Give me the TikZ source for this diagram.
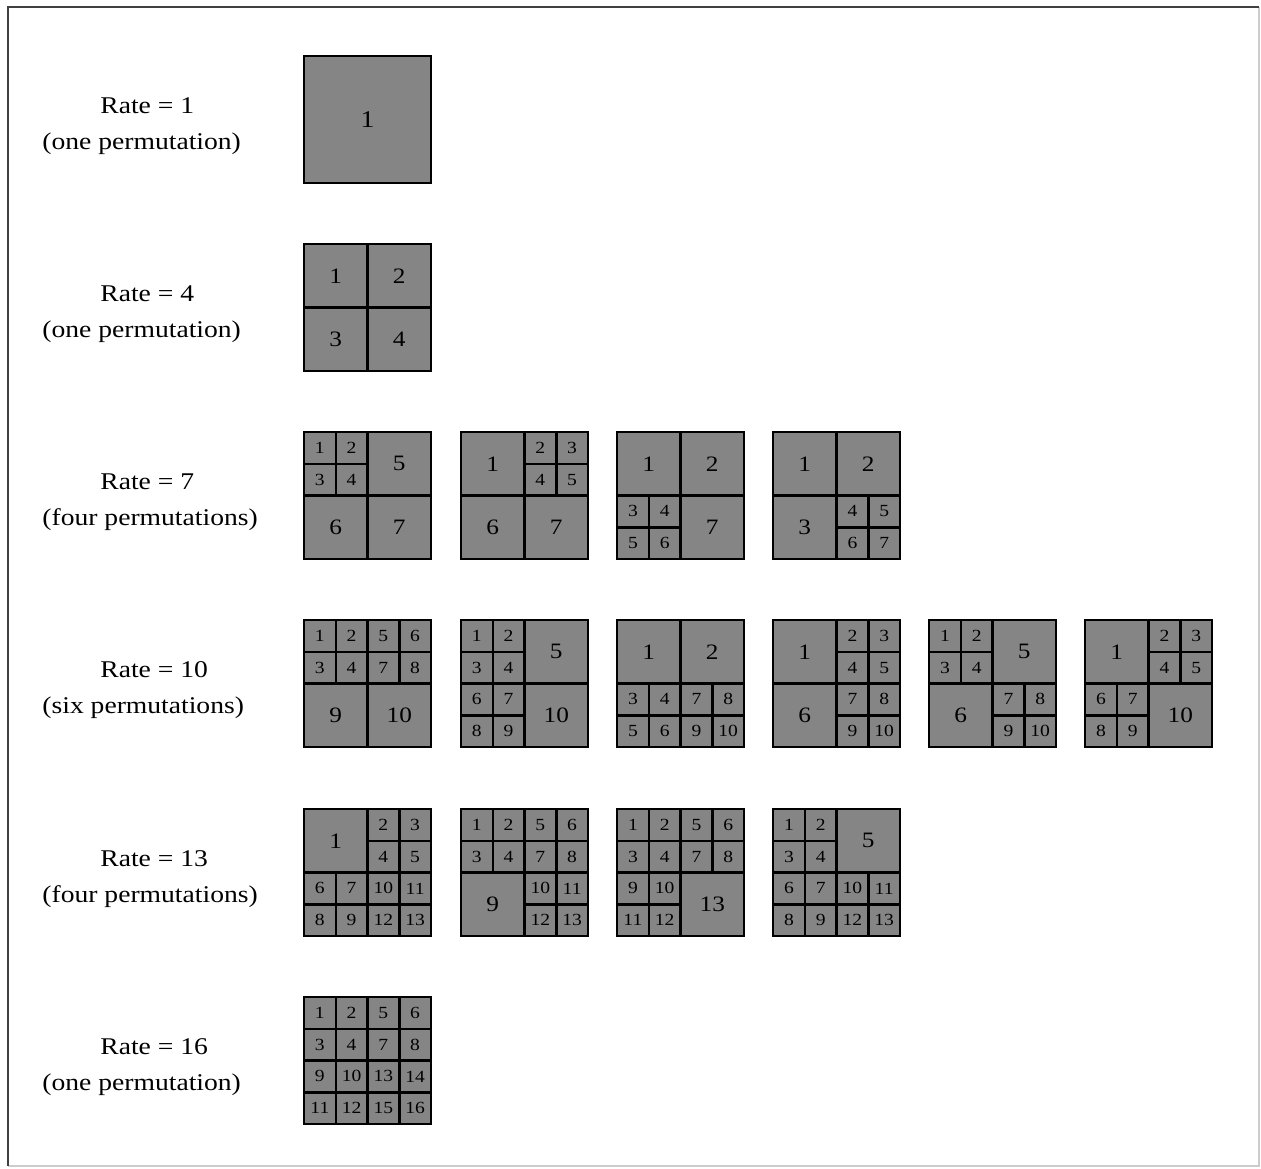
\documentclass[tikz,border=0pt]{standalone}
\usepackage{fontspec}
\setmainfont{Liberation Serif}[FakeStretch=1.15]
\usepackage{tikz}

\definecolor{tilegray}{gray}{0.52}
\def\cellq{31.75}

% one permuted square: #1 x, #2 y (top left), #3 name, #4 list col/row/size/label
\newcommand{\permsquare}[4]{%
  \foreach \c/\r/\s/\t in {#4} {
    \draw[cellbox] ({#1+\c*\cellq},{#2+\r*\cellq}) rectangle ++({\s*\cellq},{\s*\cellq});
    \ifcase\s\or\def\numstyle{smallnum}\or\def\numstyle{bignum}\or\or\def\numstyle{hugenum}\fi
    \node[\numstyle] (#3-\t) at ({#1+(\c+\s/2)*\cellq},{#2+(\r+\s/2)*\cellq}) {\t};
  }
}

\begin{document}
\begin{tikzpicture}[x=0.5pt, y=-0.5pt,
  cellbox/.style={draw=black, fill=tilegray, line width=1.25pt},
  hugenum/.style={font=\fontsize{12}{14}\selectfont, inner sep=0pt},
  bignum/.style={font=\fontsize{11}{13}\selectfont, inner sep=0pt},
  smallnum/.style={font=\fontsize{8.5}{10}\selectfont, inner sep=0pt},
  ratelbl/.style={font=\fontsize{12}{14}\selectfont, anchor=base west, inner sep=0pt}
]
  \useasboundingbox (0,0) rectangle (1261,1168);

  % frame
  \draw[black!20, line width=0.8pt] (1259,7) -- (1259,1166) -- (8,1166);
  \draw[black!75, line width=1pt] (8,1166) -- (8,7) -- (1259,7);

  % labels
  \node[ratelbl] (rate1) at (100,113) {Rate = 1};
  \node[ratelbl] (perm1) at (42,149) {(one permutation)};
  \node[ratelbl] (rate4) at (100,301) {Rate = 4};
  \node[ratelbl] (perm4) at (42,337) {(one permutation)};
  \node[ratelbl] (rate7) at (100,489) {Rate = 7};
  \node[ratelbl] (perm7) at (42,525) {(four permutations)};
  \node[ratelbl] (rate10) at (100,677) {Rate = 10};
  \node[ratelbl] (perm10) at (42,713) {(six permutations)};
  \node[ratelbl] (rate13) at (100,866) {Rate = 13};
  \node[ratelbl] (perm13) at (42,902) {(four permutations)};
  \node[ratelbl] (rate16) at (100,1054) {Rate = 16};
  \node[ratelbl] (perm16) at (42,1090) {(one permutation)};

  % rate 1
  \permsquare{304}{56}{ra}{0/0/4/1}

  % rate 4
  \permsquare{304}{244}{rb}{0/0/2/1, 2/0/2/2, 0/2/2/3, 2/2/2/4}

  % rate 7
  \permsquare{304}{432}{rca}{0/0/1/1, 1/0/1/2, 0/1/1/3, 1/1/1/4, 2/0/2/5, 0/2/2/6, 2/2/2/7}
  \permsquare{461}{432}{rcb}{0/0/2/1, 2/0/1/2, 3/0/1/3, 2/1/1/4, 3/1/1/5, 0/2/2/6, 2/2/2/7}
  \permsquare{617}{432}{rcc}{0/0/2/1, 2/0/2/2, 0/2/1/3, 1/2/1/4, 0/3/1/5, 1/3/1/6, 2/2/2/7}
  \permsquare{773}{432}{rcd}{0/0/2/1, 2/0/2/2, 0/2/2/3, 2/2/1/4, 3/2/1/5, 2/3/1/6, 3/3/1/7}

  % rate 10
  \permsquare{304}{620}{rda}{0/0/1/1, 1/0/1/2, 2/0/1/5, 3/0/1/6, 0/1/1/3, 1/1/1/4, 2/1/1/7, 3/1/1/8, 0/2/2/9, 2/2/2/10}
  \permsquare{461}{620}{rdb}{0/0/1/1, 1/0/1/2, 0/1/1/3, 1/1/1/4, 2/0/2/5, 0/2/1/6, 1/2/1/7, 0/3/1/8, 1/3/1/9, 2/2/2/10}
  \permsquare{617}{620}{rdc}{0/0/2/1, 2/0/2/2, 0/2/1/3, 1/2/1/4, 2/2/1/7, 3/2/1/8, 0/3/1/5, 1/3/1/6, 2/3/1/9, 3/3/1/10}
  \permsquare{773}{620}{rdd}{0/0/2/1, 2/0/1/2, 3/0/1/3, 2/1/1/4, 3/1/1/5, 0/2/2/6, 2/2/1/7, 3/2/1/8, 2/3/1/9, 3/3/1/10}
  \permsquare{929}{620}{rde}{0/0/1/1, 1/0/1/2, 0/1/1/3, 1/1/1/4, 2/0/2/5, 0/2/2/6, 2/2/1/7, 3/2/1/8, 2/3/1/9, 3/3/1/10}
  \permsquare{1085}{620}{rdf}{0/0/2/1, 2/0/1/2, 3/0/1/3, 2/1/1/4, 3/1/1/5, 0/2/1/6, 1/2/1/7, 0/3/1/8, 1/3/1/9, 2/2/2/10}

  % rate 13
  \permsquare{304}{809}{rea}{0/0/2/1, 2/0/1/2, 3/0/1/3, 2/1/1/4, 3/1/1/5, 0/2/1/6, 1/2/1/7, 0/3/1/8, 1/3/1/9, 2/2/1/10, 3/2/1/11, 2/3/1/12, 3/3/1/13}
  \permsquare{461}{809}{reb}{0/0/1/1, 1/0/1/2, 2/0/1/5, 3/0/1/6, 0/1/1/3, 1/1/1/4, 2/1/1/7, 3/1/1/8, 0/2/2/9, 2/2/1/10, 3/2/1/11, 2/3/1/12, 3/3/1/13}
  \permsquare{617}{809}{rec}{0/0/1/1, 1/0/1/2, 2/0/1/5, 3/0/1/6, 0/1/1/3, 1/1/1/4, 2/1/1/7, 3/1/1/8, 0/2/1/9, 1/2/1/10, 0/3/1/11, 1/3/1/12, 2/2/2/13}
  \permsquare{773}{809}{red}{0/0/1/1, 1/0/1/2, 0/1/1/3, 1/1/1/4, 2/0/2/5, 0/2/1/6, 1/2/1/7, 0/3/1/8, 1/3/1/9, 2/2/1/10, 3/2/1/11, 2/3/1/12, 3/3/1/13}

  % rate 16
  \permsquare{304}{997}{rf}{0/0/1/1, 1/0/1/2, 2/0/1/5, 3/0/1/6, 0/1/1/3, 1/1/1/4, 2/1/1/7, 3/1/1/8, 0/2/1/9, 1/2/1/10, 2/2/1/13, 3/2/1/14, 0/3/1/11, 1/3/1/12, 2/3/1/15, 3/3/1/16}
\end{tikzpicture}
\end{document}
